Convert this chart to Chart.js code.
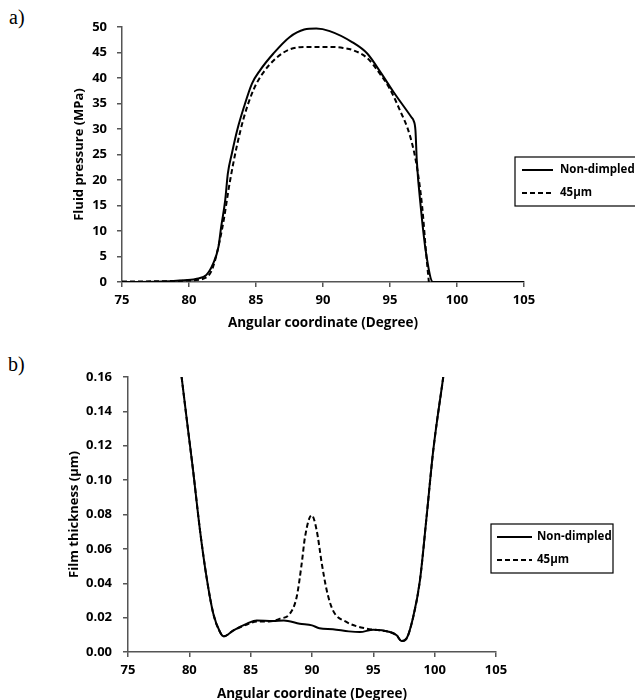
<!DOCTYPE html>
<html>
<head>
<meta charset="utf-8">
<script src="https://cdn.jsdelivr.net/npm/chart.js@4.4.0/dist/chart.umd.min.js"></script>
<style>
  html, body { margin: 0; padding: 0; background: #fff; overflow: hidden; }
  body { width: 635px; height: 700px; position: relative; }
  canvas { position: absolute; left: 0; }
  #chartA { top: 0; }
  #chartB { top: 340px; }
  .tag { position: absolute; font-family: "Liberation Serif", serif; font-size: 20px; color: #000; }
</style>
</head>
<body>
<div class="tag" style="left:9px; top:6px;">a)</div>
<div class="tag" style="left:8px; top:353px;">b)</div>
<canvas id="chartA" width="635" height="340"></canvas>
<canvas id="chartB" width="635" height="366"></canvas>
<script>
// a) fluid pressure (MPa) vs angular coordinate (degree)
const pressureAngleSolid = [75, 78, 79.3, 80.5, 81.3, 81.8, 82.2, 82.4, 82.7, 82.9, 83.2, 83.6, 84.1, 84.7, 85.3, 86.3, 87.5, 88.6, 89.5, 90.5, 92.2, 93.3, 94.3, 95.25, 96.6, 96.75, 96.9, 97.0, 97.3, 97.7, 98.2, 105];
const pressureSolid      = [0, 0.1, 0.3, 0.6, 1.4, 3.6, 6.9, 10.8, 16, 21.3, 25.2, 29.8, 34.3, 38.9, 41.5, 44.8, 48, 49.5, 49.7, 49.2, 47, 44.8, 41.1, 37.3, 32.3, 31.7, 29.7, 23.8, 14.6, 5.5, 0, 0];
const pressureAngleDimple = [75, 78, 80, 81.3, 81.8, 82.5, 83.06, 83.55, 84.1, 84.8, 85.5, 86.5, 87.5, 88.8, 90.5, 91.5, 92.2, 93.3, 94.2, 95.0, 95.7, 96.5, 97.0, 97.4, 97.7, 97.9, 100, 102, 105];
const pressureDimple      = [0.1, 0.15, 0.3, 0.9, 3, 10.8, 19.8, 26.4, 32.3, 37.6, 40.9, 43.9, 45.6, 46.1, 46.1, 45.9, 45.5, 43.9, 41, 37.8, 33.9, 28.6, 22.7, 14.8, 5.5, 0, null, 0, 0];

// b) film thickness (µm) vs angular coordinate (degree)
const filmAngleSolid = [79.37, 79.9, 80.3, 80.87, 81.4, 81.95, 82.5, 82.8, 83.6, 84.7, 85.5, 86.8, 87.7, 89.0, 90.0, 90.6, 91.7, 93.0, 93.9, 95.0, 96.35, 96.9, 97.3, 97.7, 98.25, 98.8, 99.34, 99.88, 100.7];
const filmSolid      = [0.16, 0.129, 0.106, 0.0708, 0.0437, 0.0224, 0.0116, 0.0091, 0.0126, 0.0165, 0.0184, 0.018, 0.0184, 0.0165, 0.0155, 0.0138, 0.0132, 0.012, 0.0116, 0.013, 0.0116, 0.0097, 0.0064, 0.0078, 0.0204, 0.0417, 0.0786, 0.117, 0.16];
const filmAngleDimple = [79.37, 79.9, 80.3, 80.87, 81.4, 81.95, 82.5, 82.8, 83.6, 84.7, 85.5, 86.5, 87.4, 88.2, 88.75, 89.16, 89.43, 89.97, 90.38, 90.8, 91.2, 91.7, 92.8, 94.45, 95.5, 96.35, 96.9, 97.3, 97.7, 98.25, 98.8, 99.34, 99.88, 100.7];
const filmDimple      = [0.16, 0.129, 0.106, 0.0708, 0.0437, 0.0224, 0.0116, 0.0091, 0.0126, 0.016, 0.0178, 0.0178, 0.0194, 0.0223, 0.032, 0.0514, 0.0669, 0.0796, 0.0708, 0.0514, 0.0359, 0.0243, 0.0175, 0.0136, 0.0126, 0.0116, 0.0097, 0.0064, 0.0078, 0.0204, 0.0417, 0.0786, 0.117, 0.16];

const seriesLabels = ['Non-dimpled', '45µm'];
const xTitle = 'Angular coordinate (Degree)';

const FONT = '"Open Sans", "DejaVu Sans", sans-serif';
const AXIS = '#555';

function toPoints(xs, ys) {
  return xs.map((x, i) => ({ x: x, y: ys[i] }));
}

// legend with a frame, placed like the original
const boxLegend = {
  id: 'boxLegend',
  afterDraw(chart, args, o) {
    const ctx = chart.ctx;
    ctx.save();
    ctx.fillStyle = '#fff';
    ctx.fillRect(o.x, o.y, o.w, o.h);
    ctx.strokeStyle = '#000';
    ctx.lineWidth = 1.2;
    ctx.strokeRect(o.x, o.y, o.w, o.h);
    chart.data.datasets.forEach((ds, i) => {
      const y = o.y + o.rowTop + i * o.rowGap;
      ctx.beginPath();
      ctx.setLineDash(ds.borderDash || []);
      ctx.lineWidth = ds.borderWidth;
      ctx.strokeStyle = ds.borderColor;
      ctx.moveTo(o.x + o.pad, y);
      ctx.lineTo(o.x + o.pad + o.len, y);
      ctx.stroke();
      ctx.setLineDash([]);
      ctx.fillStyle = '#000';
      ctx.font = 'bold 11.5px ' + FONT;
      ctx.textBaseline = 'middle';
      ctx.fillText(ds.label, o.x + o.pad + o.len + o.gap, y);
    });
    ctx.restore();
  }
};

function makeChart(id, solid, dimple, yCfg, pad, yWidth, xHeight, legendOpts) {
  const ctx = document.getElementById(id).getContext('2d');
  return new Chart(ctx, {
    type: 'scatter',
    data: {
      datasets: [
        {
          label: seriesLabels[0],
          data: solid,
          showLine: true,
          borderColor: '#000',
          borderWidth: 2,
          pointRadius: 0,
          cubicInterpolationMode: 'monotone'
        },
        {
          label: seriesLabels[1],
          data: dimple,
          showLine: true,
          borderColor: '#000',
          borderWidth: 2,
          borderDash: [5, 3],
          pointRadius: 0,
          cubicInterpolationMode: 'monotone'
        }
      ]
    },
    options: {
      responsive: false,
      animation: false,
      layout: { padding: pad },
      scales: {
        x: {
          type: 'linear',
          min: 75,
          max: 105,
          ticks: { stepSize: 5, color: '#000', padding: 5, font: { family: FONT, size: 13, weight: 'bold' } },
          grid: { drawOnChartArea: false, drawTicks: true, tickLength: 5, color: AXIS, lineWidth: 1.5 },
          border: { display: true, color: AXIS, width: 1.5 },
          title: { display: true, text: xTitle, color: '#000', font: { family: FONT, size: 13.5, weight: 'bold' } },
          afterFit: s => { s.height = xHeight; }
        },
        y: {
          min: yCfg.min,
          max: yCfg.max,
          ticks: {
            stepSize: yCfg.step,
            color: '#000',
            padding: yCfg.tickPad,
            font: { family: FONT, size: 13, weight: 'bold' },
            callback: v => v.toFixed(yCfg.digits)
          },
          grid: { drawOnChartArea: false, drawTicks: true, tickLength: 5, color: AXIS, lineWidth: 1.5 },
          border: { display: true, color: AXIS, width: 1.5 },
          title: { display: true, text: yCfg.title, color: '#000', font: { family: FONT, size: 13, weight: 'bold' } },
          afterFit: s => { s.width = yWidth; }
        }
      },
      plugins: {
        legend: { display: false },
        tooltip: { enabled: false },
        boxLegend: legendOpts
      }
    },
    plugins: [boxLegend]
  });
}

makeChart('chartA',
  toPoints(pressureAngleSolid, pressureSolid),
  toPoints(pressureAngleDimple, pressureDimple),
  { min: 0, max: 50, step: 5, digits: 0, tickPad: 10, title: 'Fluid pressure (MPa)' },
  { left: 67, right: 111, top: 27, bottom: 5 }, 55, 53,
  { x: 515, y: 157, w: 130, h: 49, pad: 7, len: 31, gap: 7, rowTop: 13, rowGap: 23 });

makeChart('chartB',
  toPoints(filmAngleSolid, filmSolid),
  toPoints(filmAngleDimple, filmDimple),
  { min: 0, max: 0.16, step: 0.02, digits: 2, tickPad: 11, title: 'Film thickness (µm)' },
  { left: 62, right: 139, top: 37, bottom: 0 }, 66, 54,
  { x: 491, y: 184, w: 122, h: 49, pad: 6, len: 35, gap: 5, rowTop: 13, rowGap: 23 });
</script>
</body>
</html>
